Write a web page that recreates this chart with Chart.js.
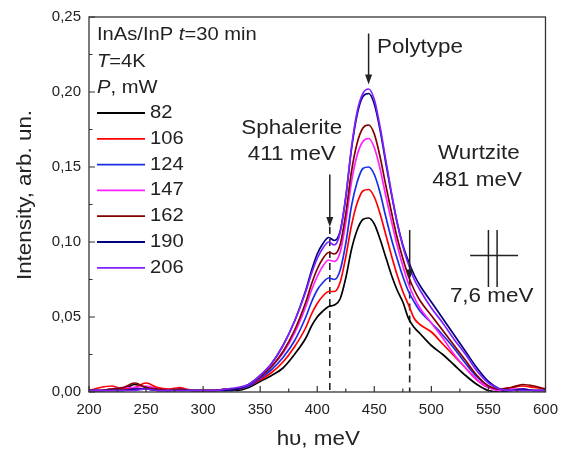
<!DOCTYPE html>
<html>
<head>
<meta charset="utf-8">
<script src="https://cdn.jsdelivr.net/npm/chart.js@4.4.1/dist/chart.umd.min.js"></script>
<style>
  html, body { margin: 0; padding: 0; background: #fff; }
  #wrap { width: 567px; height: 450px; }
</style>
</head>
<body>
<div id="wrap"><canvas id="myChart" width="567" height="450"></canvas></div>
<script>
// photon energy, meV
const energy = [200,210,220,230,240,250,260,270,280,290,300,310,320,330,
  340,350,360,370,380,390,
  395,400,405,410,415,420,425,430,435,440,445,450,455,460,465,470,475,480,485,490,
  500,510,520,530,540,550,560,570,580,590,600];

// PL intensity (arb. un.) for each excitation power
const s82 = [0.001,0.001,0.002,0.002,0.005,0.003,0.001,0.001,0.002,0.001,0.001,0.001,0.001,0.001,
  0.003,0.007,0.011,0.016,0.025,0.036,
  0.044,0.050,0.054,0.057,0.058,0.062,0.076,0.095,0.108,0.115,0.116,0.112,0.102,0.090,0.078,0.068,0.060,0.049,0.043,0.039,
  0.031,0.025,0.018,0.011,0.005,0.001,0.000,0.001,0.001,0.001,0.001];
const s106 = [0.001,0.003,0.004,0.002,0.003,0.006,0.003,0.002,0.003,0.001,0.001,0.001,0.002,0.002,
  0.004,0.008,0.013,0.020,0.030,0.043,
  0.052,0.059,0.064,0.067,0.067,0.073,0.090,0.111,0.126,0.134,0.135,0.130,0.119,0.105,0.091,0.078,0.067,0.058,0.049,0.045,
  0.040,0.032,0.024,0.016,0.008,0.003,0.002,0.003,0.004,0.003,0.002];
const s124 = [0.001,0.001,0.001,0.001,0.002,0.002,0.001,0.001,0.001,0.001,0.001,0.001,0.001,0.002,
  0.004,0.009,0.015,0.023,0.034,0.050,
  0.060,0.068,0.073,0.076,0.075,0.081,0.099,0.124,0.140,0.149,0.150,0.145,0.133,0.117,0.102,0.089,0.077,0.067,0.060,0.054,
  0.046,0.038,0.029,0.019,0.010,0.004,0.001,0.001,0.002,0.001,0.001];
const s147 = [0.001,0.001,0.002,0.003,0.003,0.004,0.002,0.001,0.002,0.001,0.001,0.001,0.001,0.002,
  0.005,0.010,0.017,0.026,0.039,0.057,
  0.068,0.077,0.084,0.088,0.087,0.093,0.113,0.140,0.158,0.167,0.169,0.163,0.149,0.131,0.114,0.098,0.084,0.072,0.063,0.056,
  0.046,0.036,0.025,0.016,0.008,0.003,0.001,0.002,0.002,0.001,0.001];
const s162 = [0.001,0.001,0.002,0.003,0.006,0.003,0.002,0.001,0.002,0.001,0.001,0.001,0.002,0.002,
  0.005,0.010,0.017,0.027,0.041,0.060,
  0.072,0.082,0.089,0.093,0.092,0.098,0.119,0.147,0.166,0.176,0.178,0.172,0.157,0.138,0.120,0.103,0.089,0.077,0.068,0.061,
  0.051,0.041,0.031,0.021,0.011,0.004,0.002,0.003,0.005,0.004,0.002];
const s190 = [0.001,0.001,0.001,0.001,0.002,0.002,0.001,0.001,0.001,0.001,0.001,0.001,0.001,0.002,
  0.005,0.011,0.019,0.031,0.047,0.068,
  0.081,0.092,0.099,0.103,0.101,0.107,0.130,0.162,0.185,0.197,0.199,0.192,0.175,0.153,0.132,0.113,0.098,0.087,0.078,0.071,
  0.060,0.049,0.038,0.027,0.016,0.007,0.002,0.001,0.002,0.001,0.001];
const s206 = [0.001,0.001,0.001,0.001,0.001,0.002,0.001,0.001,0.001,0.001,0.001,0.001,0.002,0.003,
  0.005,0.011,0.019,0.031,0.047,0.067,
  0.079,0.089,0.096,0.100,0.098,0.106,0.130,0.163,0.187,0.199,0.202,0.195,0.177,0.155,0.133,0.113,0.097,0.085,0.075,0.068,
  0.056,0.046,0.035,0.025,0.014,0.006,0.002,0.001,0.001,0.001,0.001];

const powers = ['82','106','124','147','162','190','206'];
const series = [s82, s106, s124, s147, s162, s190, s206];
const colors = ['#000000','#ff0000','#1a2ee8','#ff20ff','#800000','#000080','#8020ff'];

const xTicks = [200,250,300,350,400,450,500,550,600];
const yTicks = [0,0.05,0.10,0.15,0.20,0.25];
const yTickLabels = ['0,00','0,05','0,10','0,15','0,20','0,25'];

const FONT = '"Liberation Sans", Arial, sans-serif';
const INK = '#222';
const SX = 1.12; // the original text is slightly wide

// draw a run of text pieces [str, italic], stretched horizontally
function drawText(ctx, parts, x, y, size, align) {
  let total = 0;
  const widths = parts.map(p => {
    ctx.font = (p[1] ? 'italic ' : '') + size + 'px ' + FONT;
    const w = ctx.measureText(p[0]).width * SX;
    total += w;
    return w;
  });
  let cx = align === 'center' ? x - total / 2 : x;
  parts.forEach((p, i) => {
    ctx.font = (p[1] ? 'italic ' : '') + size + 'px ' + FONT;
    ctx.save();
    ctx.translate(cx, y);
    ctx.scale(SX, 1);
    ctx.textAlign = 'left';
    ctx.textBaseline = 'middle';
    ctx.fillText(p[0], 0, 0);
    ctx.restore();
    cx += widths[i];
  });
}

function arrow(ctx, x, y1, y2) {
  ctx.beginPath();
  ctx.moveTo(x, y1);
  ctx.lineTo(x, y2 - 8);
  ctx.lineWidth = 1.5;
  ctx.stroke();
  ctx.beginPath();
  ctx.moveTo(x - 3.5, y2 - 10);
  ctx.lineTo(x + 3.5, y2 - 10);
  ctx.lineTo(x, y2);
  ctx.closePath();
  ctx.fill();
}

const decor = {
  id: 'decor',
  beforeDatasetsDraw(chart) {
    const { ctx, scales: { x, y } } = chart;
    ctx.save();
    ctx.strokeStyle = INK;
    ctx.lineWidth = 1.6;
    ctx.setLineDash([7, 5]);
    [[411, 0.110], [481, 0.075]].forEach(d => {
      ctx.beginPath();
      ctx.moveTo(x.getPixelForValue(d[0]), y.getPixelForValue(d[1]));
      ctx.lineTo(x.getPixelForValue(d[0]), y.getPixelForValue(0));
      ctx.stroke();
    });
    ctx.restore();
  },
  afterDraw(chart) {
    const { ctx, chartArea: a, scales: { x, y } } = chart;
    ctx.save();
    ctx.strokeStyle = '#333';
    ctx.fillStyle = INK;

    // frame
    ctx.lineWidth = 1.3;
    ctx.strokeRect(a.left, a.top, a.right - a.left, a.bottom - a.top);

    // inward ticks
    ctx.lineWidth = 1.2;
    ctx.beginPath();
    for (let v = 200; v <= 600; v += 25) {
      const px = x.getPixelForValue(v);
      const len = v % 50 === 0 ? 6 : 3.5;
      ctx.moveTo(px, a.bottom);
      ctx.lineTo(px, a.bottom - len);
    }
    for (let i = 0; i <= 10; i++) {
      const py = y.getPixelForValue(i * 0.025);
      const len = i % 2 === 0 ? 6 : 3.5;
      ctx.moveTo(a.left, py);
      ctx.lineTo(a.left + len, py);
    }
    ctx.stroke();

    // arrows
    ctx.strokeStyle = INK;
    arrow(ctx, x.getPixelForValue(445), y.getPixelForValue(0.239), y.getPixelForValue(0.205));
    arrow(ctx, x.getPixelForValue(411), y.getPixelForValue(0.145), y.getPixelForValue(0.110));
    arrow(ctx, x.getPixelForValue(481), y.getPixelForValue(0.108), y.getPixelForValue(0.075));

    // 7,6 meV resolution mark
    ctx.lineWidth = 1.5;
    ctx.beginPath();
    [550, 557.6].forEach(v => {
      ctx.moveTo(x.getPixelForValue(v), y.getPixelForValue(0.108));
      ctx.lineTo(x.getPixelForValue(v), y.getPixelForValue(0.070));
    });
    ctx.moveTo(x.getPixelForValue(534), y.getPixelForValue(0.091));
    ctx.lineTo(x.getPixelForValue(576), y.getPixelForValue(0.091));
    ctx.stroke();

    // annotations
    drawText(ctx, [['Polytype', false]], x.getPixelForValue(452.4), y.getPixelForValue(0.2299), 20, 'left');
    drawText(ctx, [['Sphalerite', false]], x.getPixelForValue(377.7), y.getPixelForValue(0.1758), 20, 'center');
    drawText(ctx, [['411 meV', false]], x.getPixelForValue(377.7), y.getPixelForValue(0.1584), 20, 'center');
    drawText(ctx, [['Wurtzite', false]], x.getPixelForValue(541.6), y.getPixelForValue(0.159), 20, 'center');
    drawText(ctx, [['481 meV', false]], x.getPixelForValue(540), y.getPixelForValue(0.141), 20, 'center');
    drawText(ctx, [['7,6 meV', false]], x.getPixelForValue(552.8), y.getPixelForValue(0.064), 20, 'center');

    // legend block
    const lx = a.left + 8;
    drawText(ctx, [['InAs/InP ', false], ['t', true], ['=30 min', false]], lx, a.top + 18, 18, 'left');
    drawText(ctx, [['T', true], ['=4K', false]], lx, a.top + 45, 18, 'left');
    drawText(ctx, [['P', true], [', mW', false]], lx, a.top + 71, 18, 'left');
    powers.forEach((p, i) => {
      const ly = a.top + 96 + i * 25.8;
      ctx.strokeStyle = colors[i];
      ctx.lineWidth = 1.8;
      ctx.beginPath();
      ctx.moveTo(lx, ly);
      ctx.lineTo(lx + 48, ly);
      ctx.stroke();
      ctx.fillStyle = INK;
      drawText(ctx, [[p, false]], lx + 53, ly, 18, 'left');
    });

    // axis titles
    drawText(ctx, [['h\u03c5, meV', false]], (a.left + a.right) / 2 + 1, 439, 20, 'center');
    ctx.save();
    ctx.translate(25, 195);
    ctx.rotate(-Math.PI / 2);
    drawText(ctx, [['Intensity, arb. un.', false]], 0, 0, 20, 'center');
    ctx.restore();

    ctx.restore();
  }
};

const datasets = powers.map((p, i) => ({
  label: p,
  data: energy.map((e, k) => ({ x: e, y: series[i][k] })),
  borderColor: colors[i],
  borderWidth: 1.7,
  pointRadius: 0,
  cubicInterpolationMode: 'monotone',
  fill: false
})).reverse(); // highest power drawn on top

new Chart(document.getElementById('myChart').getContext('2d'), {
  type: 'line',
  data: { datasets: datasets },
  options: {
    responsive: false,
    animation: false,
    events: [],
    layout: { padding: { top: 17, right: 12, left: 0, bottom: 0 } },
    plugins: { legend: { display: false }, tooltip: { enabled: false } },
    scales: {
      x: {
        type: 'linear', min: 200, max: 600,
        afterBuildTicks: s => { s.ticks = xTicks.map(v => ({ value: v })); },
        afterFit: s => { s.height = 58; },
        grid: { display: false, drawTicks: false },
        border: { display: false },
        ticks: { color: INK, padding: 9, maxRotation: 0, font: { family: FONT, size: 15 } }
      },
      y: {
        type: 'linear', min: 0, max: 0.25,
        afterBuildTicks: s => { s.ticks = yTicks.map(v => ({ value: v })); },
        afterFit: s => { s.width = 89; },
        grid: { display: false, drawTicks: false },
        border: { display: false },
        ticks: {
          color: INK, padding: 8, font: { family: FONT, size: 15 },
          callback: (v, i) => yTickLabels[i]
        }
      }
    }
  },
  plugins: [decor]
});
</script>
</body>
</html>
